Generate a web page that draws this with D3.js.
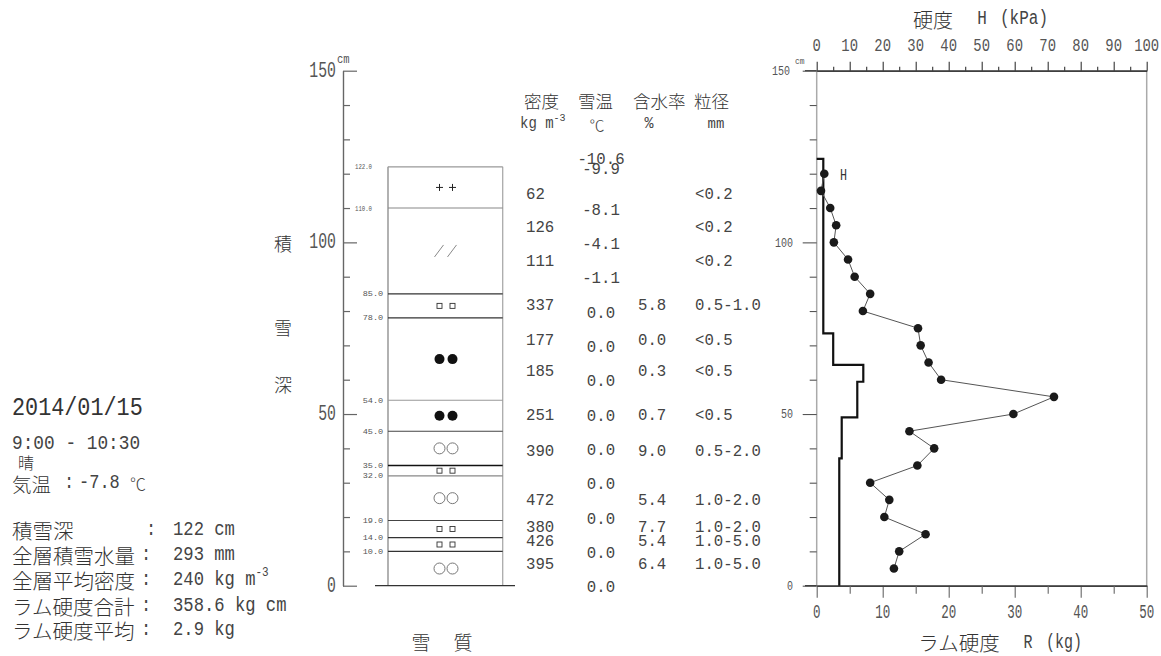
<!DOCTYPE html>
<html><head><meta charset="utf-8">
<script src="https://cdn.jsdelivr.net/npm/d3@7"></script>
<style>html,body{margin:0;padding:0;background:#fff;} svg{display:block;}</style>
</head><body>
<svg id="chart" width="1161" height="656"></svg>
<script>
// ---------------- data ----------------
const layerTops = [122, 110, 85, 78, 54, 45, 35, 32, 19, 14, 10];
const layerLabels = ["122.0","110.0","85.0","78.0","54.0","45.0","35.0","32.0","19.0","14.0","10.0"];
const layerGrain = ["+", "/", "sq", "dot", "dot", "ring", "sq", "ring", "sq", "sq", "ring"];
const snowDepth = 122;

const tempHeights = [124.8, 122, 110, 100, 90, 80, 70, 60, 50, 40, 30, 20, 10, 0];
const tempValues = ["-10.6","-9.9","-8.1","-4.1","-1.1","0.0","0.0","0.0","0.0","0.0","0.0","0.0","0.0","0.0"];

const sampleHeights = [114.6, 105, 95.1, 82.3, 72.1, 63.1, 50.3, 39.8, 25.6, 17.6, 13.4, 6.9];
const densityValues = [62, 126, 111, 337, 177, 185, 251, 390, 472, 380, 426, 395];
const waterValues = ["", "", "", "5.8", "0.0", "0.3", "0.7", "9.0", "5.4", "7.7", "5.4", "6.4"];
const grainSizes = ["<0.2","<0.2","<0.2","0.5-1.0","<0.5","<0.5","<0.5","0.5-2.0","1.0-2.0","1.0-2.0","1.0-5.0","1.0-5.0"];

const hardDepths = [120,115,110,105,100,95,90,85,80,75,70,65,60,55,50,45,40,35,30,25,20,15,10,5];
const hardValues = [2.3,1.3,4.1,5.9,5.2,9.5,11.5,16.2,14.0,30.7,31.5,33.9,37.7,71.9,59.6,28.1,35.6,30.5,16.2,22.0,20.5,33.0,25.0,23.4];

const ramTops = [124.3, 73.5, 64.3, 59.4, 49, 37.1];
const ramValues = [1.0, 2.5, 7.06, 6.15, 3.79, 3.42];

const hTicks = [0,10,20,30,40,50,60,70,80,90,100];
const rTicks = [0,10,20,30,40,50];
const depthTicks = [0,50,100,150];

// ---------------- setup ----------------
const MONO = "Liberation Mono, DejaVu Sans Mono, monospace";
const CJK = "Noto Sans CJK JP, Noto Sans CJK SC, sans-serif";
const svg = d3.select("#chart");
svg.append("rect").attr("width",1161).attr("height",656).attr("fill","#fff");

function txt(g, x, y, s, o = {}) {
  const t = g.append("text")
    .attr("transform", `translate(${x},${y}) scale(${o.sx||1},${o.sy||1})`)
    .attr("text-anchor", o.anchor || "start")
    .attr("dominant-baseline", "central")
    .style("font-family", o.font || MONO)
    .style("font-size", (o.size || 16) + "px")
    .style("font-weight", o.font === CJK ? 300 : 400)
    .attr("fill", o.fill || "#444")
    .text(s);
  if (o.len) t.attr("textLength", o.len).attr("lengthAdjust", "spacingAndGlyphs");
  return t;
}

const yD = d3.scaleLinear().domain([0, 150]).range([585.7, 70.7]);
const xH = d3.scaleLinear().domain([0, 100]).range([816.7, 1146.7]);
const xR = d3.scaleLinear().domain([0, 50]).range([816.7, 1146.7]);

// ---------------- left text block ----------------
const info = svg.append("g");
txt(info, 12, 408, "2014/01/15", {size: 21.8, sy: 1.16, fill: "#333"});
txt(info, 12, 444, "9:00 - 10:30", {size: 17.8, sy: 1.15});
txt(info, 18, 462, "晴", {font: CJK, size: 16, fill: "#333"});
txt(info, 12, 483, "気温", {font: CJK, size: 19.5, fill: "#333"});
txt(info, 64, 483, ":", {size: 17, sy: 1.15});
txt(info, 79, 483, "-7.8", {size: 17, sy: 1.15});
txt(info, 130, 483, "℃", {font: CJK, size: 16, fill: "#444"});

const infoLabels = ["積雪深", "全層積雪水量", "全層平均密度", "ラム硬度合計", "ラム硬度平均"];
const infoValues = ["122 cm", "293 mm", "240 kg m", "358.6 kg cm", "2.9 kg"];
const infoY = [530, 555, 580, 606, 630];
infoLabels.forEach((l, i) => {
  txt(info, 12, infoY[i], l, {font: CJK, size: 20.5, fill: "#333"});
  txt(info, i === 0 ? 146 : 141, infoY[i], ":", {size: 17, sy: 1.15});
  const t = txt(info, 173, infoY[i], infoValues[i], {size: 17.2, sy: 1.17});
  if (i === 2) t.append("tspan").attr("dy", -6).style("font-size", "11px").text("-3");
});

// ---------------- left depth axis ----------------
const axL = svg.append("g").attr("transform", "translate(343,0)");
axL.call(d3.axisRight(yD).tickValues(depthTicks).tickSize(14).tickSizeOuter(0).tickFormat(""));
axL.call(g => g.append("g").call(d3.axisRight(yD).tickValues(d3.range(10,150,10).filter(d => d % 50)).tickSize(7).tickSizeOuter(0).tickFormat("")));
axL.selectAll("path.domain").attr("stroke", "#666").attr("stroke-width", 1.2);
axL.selectAll("line").attr("stroke", "#666").attr("stroke-width", 1.2);
depthTicks.forEach(d => txt(svg, 336, yD(d), String(d), {anchor: "end", size: 14.8, sy: 1.5, fill: "#555"}));
txt(svg, 337, 60, "cm", {size: 10.5, sy: 1.25, fill: "#555"});
[["積", 243], ["雪", 327], ["深", 384]].forEach(([c, y]) => txt(svg, 283, y, c, {font: CJK, size: 18, anchor: "middle", fill: "#333"}));

// ---------------- snow layer column ----------------
const col = svg.append("g");
const colX0 = 388, colX1 = 502.7, symX = 446;
col.append("line").attr("x1", colX0).attr("x2", colX0).attr("y1", yD(snowDepth)).attr("y2", yD(0)).attr("stroke", "#888").attr("stroke-width", 1.3);
col.append("line").attr("x1", colX1).attr("x2", colX1).attr("y1", yD(snowDepth)).attr("y2", yD(0)).attr("stroke", "#aaa").attr("stroke-width", 1.3);
const lineColors = ["#999", "#888", "#333", "#333", "#999", "#444", "#111", "#888", "#444", "#333", "#333"];
layerTops.forEach((t, i) => {
  col.append("line").attr("x1", colX0).attr("x2", colX1).attr("y1", yD(t)).attr("y2", yD(t))
    .attr("stroke", lineColors[i]).attr("stroke-width", i === 6 ? 1.6 : 1.1);
  const lab = layerLabels[i];
  if (lab.length > 4) txt(col, 355, yD(t), lab, {size: 8, len: 17, fill: "#555"});
  else txt(col, 362.7, yD(t), lab, {size: 8, len: 20.5, fill: "#555"});
  const bottom = i + 1 < layerTops.length ? layerTops[i + 1] : 0;
  const cy = yD((t + bottom) / 2);
  const g = layerGrain[i];
  [-6.5, 6.5].forEach(dx => {
    const cx = symX + dx;
    if (g === "+") {
      col.append("path").attr("d", `M${cx-3.5},${cy}H${cx+3.5}M${cx},${cy-3.5}V${cy+3.5}`).attr("stroke", "#222").attr("stroke-width", 1);
    } else if (g === "/") {
      col.append("path").attr("d", `M${cx-5},${cy+6}L${cx+4},${cy-6}`).attr("stroke", "#888").attr("stroke-width", 1);
    } else if (g === "sq") {
      col.append("rect").attr("x", cx - 2.5).attr("y", cy - 2.5).attr("width", 5).attr("height", 5).attr("fill", "none").attr("stroke", "#333").attr("stroke-width", 0.9);
    } else if (g === "dot") {
      col.append("circle").attr("cx", cx).attr("cy", cy).attr("r", 5).attr("fill", "#111");
    } else if (g === "ring") {
      col.append("circle").attr("cx", cx).attr("cy", cy).attr("r", 5.5).attr("fill", "none").attr("stroke", "#777").attr("stroke-width", 1);
    }
  });
});
col.append("line").attr("x1", 375).attr("x2", 515).attr("y1", yD(0)).attr("y2", yD(0)).attr("stroke", "#333").attr("stroke-width", 1.2);
txt(svg, 421, 641, "雪", {font: CJK, size: 19, anchor: "middle", fill: "#333"});
txt(svg, 463, 641, "質", {font: CJK, size: 19, anchor: "middle", fill: "#333"});

// ---------------- table ----------------
const tb = svg.append("g");
txt(tb, 524, 100, "密度", {font: CJK, size: 17.5, fill: "#333"});
txt(tb, 578, 100, "雪温", {font: CJK, size: 17.5, fill: "#333"});
txt(tb, 633, 100, "含水率", {font: CJK, size: 17.5, fill: "#333"});
txt(tb, 694, 100, "粒径", {font: CJK, size: 17.5, fill: "#333"});
txt(tb, 520, 124, "kg m", {size: 14, sy: 1.15}).append("tspan").attr("dy", -5).style("font-size", "10px").text("-3");
txt(tb, 597, 124, "℃", {font: CJK, size: 15, anchor: "middle", fill: "#444"});
txt(tb, 649, 124, "%", {size: 15, sy: 1.15, anchor: "middle"});
txt(tb, 716, 124, "mm", {size: 14, sy: 1.1, anchor: "middle"});

tempValues.forEach((v, i) => txt(tb, 601, yD(tempHeights[i]) + 2, v, {size: 15.7, sy: 1.1, anchor: "middle"}));
sampleHeights.forEach((h, i) => {
  const y = yD(h) + 2;
  txt(tb, 526, y, String(densityValues[i]), {size: 15.7, sy: 1.1});
  if (waterValues[i]) txt(tb, 638, y, waterValues[i], {size: 15.7, sy: 1.1});
  txt(tb, 695, y, grainSizes[i], {size: 15.7, sy: 1.1});
});

// ---------------- right chart ----------------
const rc = svg.append("g");
rc.append("line").attr("x1", xH(0)).attr("x2", xH(0)).attr("y1", yD(150)).attr("y2", yD(0)).attr("stroke", "#aaa").attr("stroke-width", 1.5);
rc.append("line").attr("x1", xH(100)).attr("x2", xH(100)).attr("y1", yD(150)).attr("y2", yD(0)).attr("stroke", "#aaa").attr("stroke-width", 1.5);

// top axis H (kPa)
const axT = rc.append("g").attr("transform", `translate(0,${yD(150)})`);
axT.call(d3.axisTop(xH).tickValues(hTicks).tickSize(9).tickSizeOuter(0).tickFormat(""));
axT.append("g").call(d3.axisTop(xH).tickValues(d3.range(5, 100, 10)).tickSize(4).tickSizeOuter(0).tickFormat(""));
axT.selectAll("line").attr("stroke", "#333").attr("stroke-width", 1.1);
axT.selectAll("path.domain").attr("stroke", "#333").attr("stroke-width", 1.2);
rc.append("line").attr("x1", 805).attr("x2", xH(0)).attr("y1", yD(150)).attr("y2", yD(150)).attr("stroke", "#333").attr("stroke-width", 1.2);
hTicks.forEach(t => txt(rc, xH(t), 47, String(t), {size: 13.9, sy: 1.27, anchor: "middle", fill: "#555"}));
txt(rc, 933, 19, "硬度", {font: CJK, size: 20, anchor: "middle", fill: "#333"});
txt(rc, 982, 19, "H", {size: 16, sy: 1.3, anchor: "middle"});
txt(rc, 1000, 19, "(kPa)", {size: 16, sy: 1.3});

// left depth axis (right chart)
const axR = rc.append("g").attr("transform", `translate(${xH(0)},0)`);
axR.call(d3.axisLeft(yD).tickValues(depthTicks).tickSize(14).tickSizeOuter(0).tickFormat(""));
axR.append("g").call(d3.axisLeft(yD).tickValues(d3.range(10, 150, 10).filter(d => d % 50)).tickSize(7).tickSizeOuter(0).tickFormat(""));
axR.selectAll("path.domain").remove();
axR.selectAll("line").attr("stroke", "#555").attr("stroke-width", 1.1);
depthTicks.forEach(d => { if (d !== 150) txt(rc, 793, yD(d) + 1, String(d), {anchor: "end", size: 10, sy: 1.25, fill: "#555"}); });
txt(rc, 790, 72, "150", {anchor: "end", size: 10, sy: 1.25, fill: "#555"});
txt(rc, 795, 62, "cm", {size: 8, sy: 1.2, fill: "#555"});

// bottom axis R (kg)
const axB = rc.append("g").attr("transform", `translate(0,${yD(0)})`);
axB.call(d3.axisBottom(xR).tickValues(rTicks).tickSize(12).tickSizeOuter(0).tickFormat(""));
axB.append("g").call(d3.axisBottom(xR).tickValues(d3.range(5, 50, 10)).tickSize(8).tickSizeOuter(0).tickFormat(""));
axB.selectAll("line").attr("stroke", "#666").attr("stroke-width", 1.1);
axB.selectAll("path.domain").attr("stroke", "#333").attr("stroke-width", 1.2);
rc.append("line").attr("x1", 805).attr("x2", xR(0)).attr("y1", yD(0)).attr("y2", yD(0)).attr("stroke", "#333").attr("stroke-width", 1.2);
rTicks.forEach(t => txt(rc, xR(t), 613, String(t), {size: 12.5, sy: 1.57, anchor: "middle", fill: "#555"}));
txt(rc, 959, 642, "ラム硬度", {font: CJK, size: 20.5, anchor: "middle", fill: "#333"});
txt(rc, 1028, 642, "R", {size: 15, sy: 1.35, anchor: "middle"});
txt(rc, 1046, 642, "(kg)", {size: 15, sy: 1.35});

// ram hardness step line
const stepPts = [[0, ramTops[0]]];
ramValues.forEach((r, i) => {
  const bottom = i + 1 < ramTops.length ? ramTops[i + 1] : 0;
  stepPts.push([r, ramTops[i]], [r, bottom]);
});
rc.append("path").attr("d", d3.line().x(d => xR(d[0])).y(d => yD(d[1]))(stepPts))
  .attr("fill", "none").attr("stroke", "#111").attr("stroke-width", 2.2);

// push hardness H points
const hPts = hardDepths.map((d, i) => [hardValues[i], d]);
rc.append("path").attr("d", d3.line().x(d => xH(d[0])).y(d => yD(d[1]))(hPts))
  .attr("fill", "none").attr("stroke", "#555").attr("stroke-width", 1);
rc.selectAll("circle.h").data(hPts).join("circle").attr("class", "h")
  .attr("cx", d => xH(d[0])).attr("cy", d => yD(d[1])).attr("r", 4.3).attr("fill", "#1a1a1a");
txt(rc, 843.5, 175, "H", {size: 11.7, sy: 1.35, anchor: "middle", fill: "#333"});
</script>
</body></html>
